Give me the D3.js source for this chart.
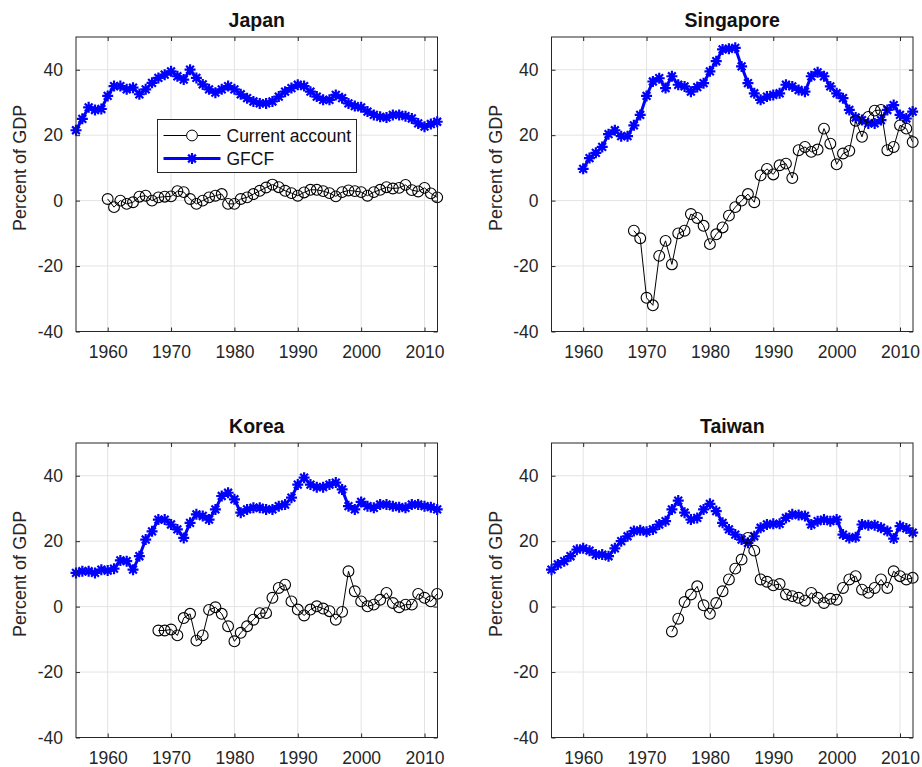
<!DOCTYPE html>
<html>
<head>
<meta charset="utf-8">
<script src="https://cdn.jsdelivr.net/npm/d3@7"></script>
<style>
  body { margin: 0; background: #fff; }
  svg { font-family: "Liberation Sans", Arial, Helvetica, sans-serif; }
  .tick text { fill: #262626; }
</style>
</head>
<body>
<div class="chart-container"></div>
<script>
// panel titles
const countries = ['Japan', 'Singapore', 'Korea', 'Taiwan']
const xTicks = [1960, 1970, 1980, 1990, 2000, 2010]
const yTicks = [-40, -20, 0, 20, 40]

// GFCF, percent of GDP (annual)
const gfcfStart = [1955, 1960, 1955, 1955]
const gfcfJapan = [21.5, 25, 28.5, 27.7, 28, 32, 35, 35, 34, 34.5,
  32.5, 34, 36, 37.5, 38.5, 39.5, 38, 37, 40, 37.5,
  35.5, 34, 33, 34, 35, 34, 32.5, 31.3, 30.3, 29.7,
  29.7, 30.3, 31.8, 33.3, 34.4, 35.4, 35, 33.3, 31.8, 30.8,
  30.8, 32.3, 31.3, 29.7, 28.9, 28.5, 27.2, 26.2, 25.6, 25.4,
  26.2, 26.2, 25.8, 25.1, 23.6, 22.6, 23.4, 24.1]
const gfcfSingapore = [9.7, 13, 14.6, 16.4, 20.3, 21.5, 19.7, 19.7, 23, 26.2,
  32, 36.4, 37.4, 34.4, 38, 35.4, 34.9, 33.3, 34.7, 35.9,
  39.5, 42.6, 46.2, 46.4, 46.7, 41, 35.9, 32.8, 30.8, 31.8,
  32.3, 32.8, 35.4, 34.9, 33.8, 33.3, 38, 39.2, 38, 34.9,
  32.8, 31.3, 27.7, 25.4, 24.6, 23.6, 23.6, 24.6, 27.7, 29.2,
  26.2, 25.1, 27.2]
const gfcfKorea = [10.3, 10.8, 10.8, 10.3, 11.3, 11, 11.6, 14.1, 13.9, 11.3,
  15.4, 20.5, 23, 26.6, 26.6, 25.1, 23.6, 21, 25.6, 28.2,
  27.7, 26.6, 29.7, 33.8, 34.8, 32.8, 28.7, 29.7, 30.2, 30.2,
  29.7, 29.7, 30.7, 31.2, 33.3, 37.3, 39.4, 37.3, 36.5, 36.5,
  37.3, 37.9, 35.8, 30.7, 29.7, 32, 30.7, 30.2, 31.2, 31.2,
  30.7, 30.4, 30.2, 31.2, 31.2, 30.7, 30.4, 29.7]
const gfcfTaiwan = [11.3, 12.9, 13.9, 15.4, 17.4, 17.8, 17.1, 15.9, 15.9, 15.4,
  17.8, 20, 21.5, 23.1, 23.3, 22.9, 23.6, 25.1, 26.1, 29.7,
  32.4, 28.7, 26.6, 27.1, 29.7, 31.4, 29.2, 25.6, 23.6, 22,
  20.5, 19.5, 21.5, 24.1, 25.1, 25.3, 25.3, 27.1, 28.2, 28,
  27.7, 25.1, 26.1, 26.6, 26.1, 26.6, 22, 21, 21.2, 25.1,
  24.9, 24.9, 24.1, 23.1, 20.8, 24.6, 23.9, 22.6]

// Current account, percent of GDP (annual)
const caStart = [1960, 1968, 1968, 1974]
const caJapan = [0.5, -2, 0, -1, -0.5, 1.2, 1.5, 0, 1, 1.2,
  1.3, 2.9, 2.6, 0.5, -1, 0, 1, 1.5, 2, -1,
  -1, 0.5, 1, 2, 3, 4, 4.9, 4.1, 3, 2.3,
  1.5, 2.5, 3.3, 3.3, 2.9, 2.3, 1.3, 2.6, 3.1, 2.9,
  2.6, 1.5, 2.6, 3.3, 4.1, 3.7, 3.9, 4.8, 3.2, 2.8,
  3.9, 2.2, 1.0]
const caSingapore = [-9.2, -11.5,
  -29.7, -32, -16.9, -12.3, -19.5, -10, -9.2, -4.1, -5.3, -7.7,
  -13.3, -10.3, -8.2, -4.6, -2, 0, 2, -0.5, 7.7, 9.7,
  8, 10.8, 11.3, 6.9, 15.4, 16.4, 14.9, 15.6, 22, 17.4,
  11.1, 14.4, 15.2, 24.4, 19.5, 25.6, 27.5, 27.7, 15.4, 16.4,
  23, 22, 17.9]
const caKorea = [-7.3, -7.3,
  -7, -8.8, -3.5, -2.2, -10.4, -8.8, -1, -0.2, -2.2, -6,
  -10.6, -8, -6, -4, -2, -2, 2.7, 5.7, 6.7, 1.6,
  -0.9, -2.7, -0.9, 0.1, -0.6, -1.4, -4, -1.6, 10.8, 4.7,
  1.6, 0.1, 0.6, 2.1, 4.2, 1.1, -0.2, 0.6, 0.6, 3.9,
  2.7, 1.6, 3.9]
const caTaiwan = [-7.6, -3.7, 1.4, 3.7, 6.2, 0.4,
  -2.2, 1.1, 4.7, 8.3, 11.6, 14.4, 21, 17.1, 8.3, 7.6,
  6.5, 6.9, 3.7, 3.2, 2.7, 1.8, 4.2, 2.7, 1.1, 2.4,
  2.1, 5.7, 8.3, 9.3, 5.2, 4.2, 5.7, 8.3, 5.7, 10.8,
  9.3, 8.3, 8.8]

const gfcfSeries = [gfcfJapan, gfcfSingapore, gfcfKorea, gfcfTaiwan]
const caSeries = [caJapan, caSingapore, caKorea, caTaiwan]

// layout
const svg_width = 922
const svg_height = 767
const panelLeft = [76, 551.5]
const panelTop = [37, 443]
const panel_width = 361.5
const panel_height = 294.5
const textColor = '#262626'
const blue = '#0000ff'

const svg = d3.select('.chart-container').append('svg')
  .attr('width', svg_width).attr('height', svg_height)

// MATLAB style '*' marker
function starPath(r) {
  const d = r * Math.SQRT1_2
  return `M${-r},0L${r},0M0,${-r}L0,${r}M${-d},${-d}L${d},${d}M${-d},${d}L${d},${-d}`
}

function toPoints(values, start) {
  return values.map((v, i) => ({ year: start + i, value: v }))
}

function drawPanel(idx) {
  const left = panelLeft[idx % 2]
  const top = panelTop[Math.floor(idx / 2)]
  const g = svg.append('g').attr('transform', `translate(${left}, ${top})`)

  const xScale = d3.scaleLinear([1955, 2012.05], [0, panel_width])
  const yScale = d3.scaleLinear([-40, 50], [panel_height, 0])

  // grid
  g.append('g').selectAll('line').data(xTicks).join('line')
    .attr('x1', d => xScale(d)).attr('x2', d => xScale(d))
    .attr('y1', 0).attr('y2', panel_height)
    .attr('stroke', '#e3e3e3').attr('stroke-width', 1)
  g.append('g').selectAll('line').data(yTicks.filter(d => d > -40)).join('line')
    .attr('x1', 0).attr('x2', panel_width)
    .attr('y1', d => yScale(d)).attr('y2', d => yScale(d))
    .attr('stroke', '#e3e3e3').attr('stroke-width', 1)

  // GFCF
  const gfcf = toPoints(gfcfSeries[idx], gfcfStart[idx])
  const line = d3.line().x(d => xScale(d.year)).y(d => yScale(d.value))
  g.append('path').datum(gfcf)
    .attr('d', line).attr('fill', 'none')
    .attr('stroke', blue).attr('stroke-width', 3)
  g.append('g').selectAll('path').data(gfcf).join('path')
    .attr('transform', d => `translate(${xScale(d.year)}, ${yScale(d.value)})`)
    .attr('d', starPath(5.5))
    .attr('stroke', blue).attr('stroke-width', 2.2)

  // Current account
  const ca = toPoints(caSeries[idx], caStart[idx])
  g.append('path').datum(ca)
    .attr('d', line).attr('fill', 'none')
    .attr('stroke', '#000').attr('stroke-width', 1)
  g.append('g').selectAll('circle').data(ca).join('circle')
    .attr('cx', d => xScale(d.year)).attr('cy', d => yScale(d.value))
    .attr('r', 5.4).attr('fill', 'none')
    .attr('stroke', '#000').attr('stroke-width', 1.1)

  // axes (box with ticks on every side)
  const xAxis = d3.axisBottom(xScale).tickValues(xTicks).tickFormat(d => String(d))
    .tickSizeInner(-4).tickSizeOuter(0).tickPadding(14)
  const xDraw = g.append('g').attr('transform', `translate(0, ${panel_height})`).call(xAxis)
  const yAxis = d3.axisLeft(yScale).tickValues(yTicks).tickFormat(d => String(d))
    .tickSizeInner(-4).tickSizeOuter(0).tickPadding(13)
  const yDraw = g.append('g').call(yAxis)
  g.append('g').call(d3.axisTop(xScale).tickValues(xTicks).tickSizeInner(-4).tickSizeOuter(0).tickFormat(''))
  g.append('g').attr('transform', `translate(${panel_width}, 0)`)
    .call(d3.axisRight(yScale).tickValues(yTicks).tickSizeInner(-4).tickSizeOuter(0).tickFormat(''))
  g.selectAll('.domain').remove()
  g.selectAll('.tick line').attr('stroke', textColor)
  xDraw.selectAll('text').style('font-size', '17.5px')
  yDraw.selectAll('text').style('font-size', '17.5px')

  g.append('rect').attr('width', panel_width).attr('height', panel_height)
    .attr('fill', 'none').attr('stroke', textColor).attr('stroke-width', 1)

  // title
  g.append('text').attr('x', panel_width / 2).attr('y', -10)
    .attr('text-anchor', 'middle').attr('fill', '#111')
    .style('font-size', '19.5px').style('font-weight', 'bold')
    .text(countries[idx])

  // y label
  g.append('text')
    .attr('transform', `translate(${-50}, ${yScale(10)}) rotate(-90)`)
    .attr('text-anchor', 'middle').attr('fill', textColor)
    .style('font-size', '18px')
    .text('Percent of GDP')

  return g
}

const panels = countries.map((c, i) => drawPanel(i))

// legend in Japan panel
const legend = panels[0].append('g').attr('transform', 'translate(81.5, 82.5)')
legend.append('rect').attr('width', 199).attr('height', 53)
  .attr('fill', '#fff').attr('stroke', textColor).attr('stroke-width', 1)
const rowCa = legend.append('g').attr('transform', 'translate(0, 16)')
rowCa.append('line').attr('x1', 6).attr('x2', 63).attr('stroke', '#000').attr('stroke-width', 1)
rowCa.append('circle').attr('cx', 34.5).attr('r', 5.4).attr('fill', '#fff').attr('stroke', '#000')
rowCa.append('text').attr('x', 69).attr('dy', '0.35em').attr('fill', '#111')
  .style('font-size', '17.5px').text('Current account')
const rowG = legend.append('g').attr('transform', 'translate(0, 39)')
rowG.append('line').attr('x1', 6).attr('x2', 63).attr('stroke', blue).attr('stroke-width', 3)
rowG.append('path').attr('transform', 'translate(34.5, 0)').attr('d', starPath(5.5))
  .attr('stroke', blue).attr('stroke-width', 2.2)
rowG.append('text').attr('x', 69).attr('dy', '0.35em').attr('fill', '#111')
  .style('font-size', '17.5px').text('GFCF')
</script>
</body>
</html>
